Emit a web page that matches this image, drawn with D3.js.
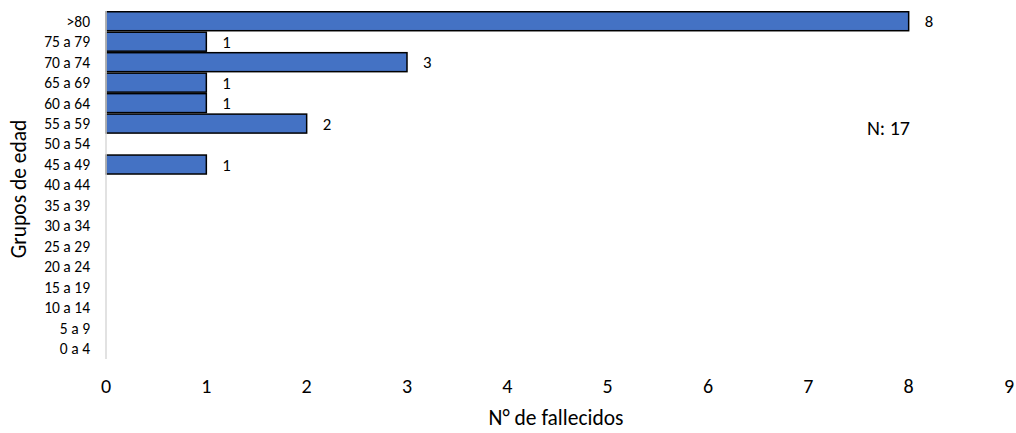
<!DOCTYPE html>
<html><head><meta charset="utf-8">
<script src="https://cdn.jsdelivr.net/npm/d3@7"></script>
<style>body{margin:0;background:#fff;}svg{display:block;font-family:Calibri,Carlito,"Liberation Sans","Open Sans",sans-serif;}</style>
</head><body>
<svg id="c" width="1016" height="433"></svg>
<script>
const categories = [">80","75 a 79","70 a 74","65 a 69","60 a 64","55 a 59","50 a 54","45 a 49","40 a 44","35 a 39","30 a 34","25 a 29","20 a 24","15 a 19","10 a 14","5 a 9","0 a 4"];
const values = [8,1,3,1,1,2,0,1,0,0,0,0,0,0,0,0,0];
const xTicks = [0,1,2,3,4,5,6,7,8,9];
const annotation = "N: 17";

const svg = d3.select("#c");
const m = {left:106, right:1009, top:11, bottom:359};
const x = d3.scaleLinear().domain([0,9]).range([m.left, m.right]);
const y = d3.scaleBand().domain(categories).range([m.top, m.bottom]).paddingInner(0.0).paddingOuter(0);

const data = categories.map((c,i)=>({c, v: values[i]}));

svg.selectAll("rect.bar").data(data.filter(d=>d.v>0)).enter().append("rect")
  .attr("class","bar")
  .attr("x", x(0)).attr("y", d=>y(d.c)+0.75)
  .attr("width", d=>x(d.v)-x(0)).attr("height", y.bandwidth()-1.5)
  .attr("fill","#4472C4").attr("stroke","#000").attr("stroke-width",1.5);

// axis line
svg.append("line").attr("x1",x(0)).attr("x2",x(0)).attr("y1",m.top).attr("y2",m.bottom)
  .attr("stroke","#d9d9d9").attr("stroke-width",1.5);

// y tick labels
svg.selectAll("text.yl").data(categories).enter().append("text")
  .attr("class","yl").attr("x", 90).attr("y", d=>y(d)+y.bandwidth()/2)
  .attr("dy","0.35em").attr("text-anchor","end").attr("font-size",15.5).attr("fill","#000")
  .text(d=>d);

// x tick labels
svg.selectAll("text.xl").data(xTicks).enter().append("text")
  .attr("class","xl").attr("x", d=>x(d)).attr("y", 393)
  .attr("text-anchor","middle").attr("font-size",20).attr("fill","#000")
  .text(d=>d);

// value labels
svg.selectAll("text.vl").data(data.filter(d=>d.v>0)).enter().append("text")
  .attr("class","vl").attr("x", d=>x(d.v)+16).attr("y", d=>y(d.c)+y.bandwidth()/2)
  .attr("dy","0.36em").attr("font-size",16.8).attr("fill","#000")
  .text(d=>d.v);

// annotation
svg.append("text").attr("x", 910).attr("y", 128).attr("dy","0.35em")
  .attr("text-anchor","end").attr("font-size",20).attr("fill","#000").text(annotation);

// axis titles
svg.append("text").attr("x", 556).attr("y", 425)
  .attr("text-anchor","middle").attr("font-size",21.5).attr("fill","#000").text("N° de fallecidos");
svg.append("text").attr("transform","translate(26,189) rotate(-90)")
  .attr("text-anchor","middle").attr("font-size",21.5).attr("fill","#000").text("Grupos de edad");
</script>
</body></html>
